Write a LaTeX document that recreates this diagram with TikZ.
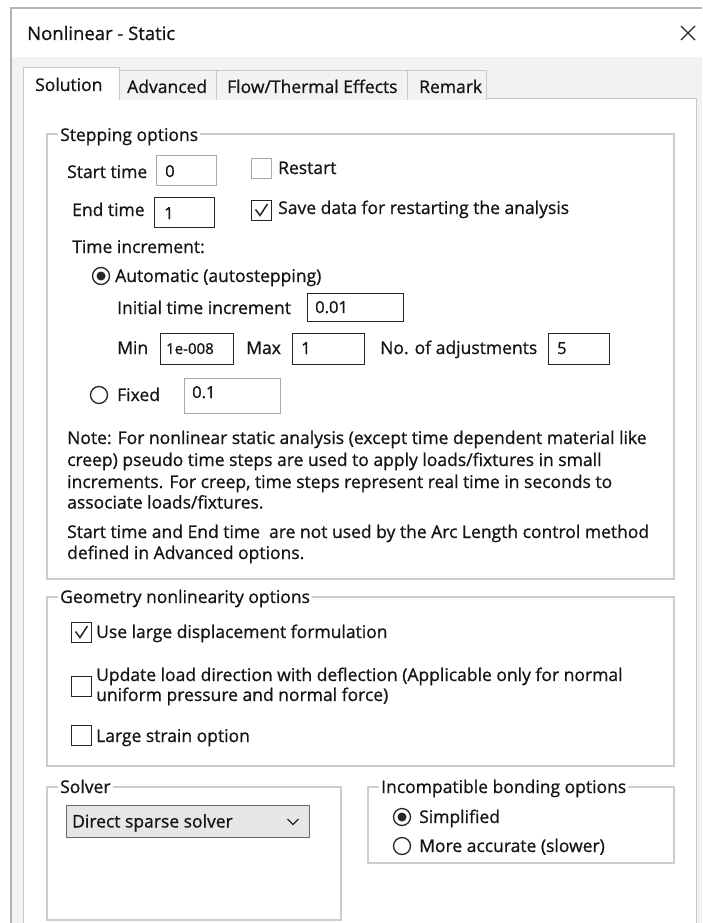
\documentclass[tikz,border=0pt]{standalone}
\usepackage{fontspec}
\setmainfont{Open Sans}[FakeBold=0.8]
\definecolor{frame}{HTML}{B4B4B4}
\definecolor{dlgbg}{HTML}{F2F2F2}
\definecolor{grpc}{HTML}{CDCDCD}
\definecolor{dark}{HTML}{262626}
\definecolor{greyb}{HTML}{A8A8A8}
\definecolor{txt}{HTML}{141414}
\definecolor{combo}{HTML}{E6E6E6}
\definecolor{tabc}{HTML}{C8C8C8}
\tikzset{
  lbl/.style={anchor=base west, inner sep=0pt, text=txt},
  grp/.style={draw=grpc, line width=1.2pt},
  grplbl/.style={anchor=base west, fill=white, inner xsep=2pt, inner ysep=2pt, text=txt},
  tbox/.style={draw=dark, line width=1.4pt, anchor=north west, inner sep=0pt},
  tboxg/.style={draw=greyb, line width=1.1pt, anchor=north west, inner sep=0pt},
  chkbox/.style={draw=dark, line width=1.3pt, anchor=north west, minimum size=20pt, inner sep=0pt},
  chkboxg/.style={draw=greyb, line width=1.1pt, anchor=north west, minimum size=20pt, inner sep=0pt},
  radio/.style={circle, draw=dark, line width=1.3pt, minimum size=17pt, inner sep=0pt},
  radiodot/.style={circle, fill=dark, minimum size=9pt, inner sep=0pt},
  tabn/.style={draw=tabc, fill=dlgbg, line width=1pt},
  tick/.style={draw=dark, line width=1.5pt, line join=miter},
  val/.style={lbl, font=\fontsize{16.5}{19}\selectfont},
}
\begin{document}
\begin{tikzpicture}[x=1pt,y=-1pt, font=\fontsize{17.5}{21}\selectfont]
\useasboundingbox (0,0) rectangle (702,923);
\fill[white] (0,0) rectangle (702,923);
% window
\fill[dlgbg] (11,57) rectangle (702,923);
\draw[frame, line width=1.2pt] (11,923) -- (11,8) -- (702,8);
\node[lbl, font=\fontsize{18.5}{21}\selectfont] (title) at (27,40) {Nonlinear - Static};
\draw[dark, line width=1.3pt] (681,26) -- (695,40) (681,40) -- (695,26);
% panel
\draw[tabc, fill=white, line width=1pt] (23,930) -- (23,99) -- (696,99) -- (696,930);
% tabs
\draw[tabn] (119,100) -- (119,71) -- (216,71) -- (216,100);
\draw[tabn] (216,100) -- (216,71) -- (407,71) -- (407,100);
\draw[tabn] (407,100) -- (407,71) -- (486,71) -- (486,100);
\fill[white] (23.5,68) rectangle (118.5,100.5);
\draw[tabc, line width=1pt] (23,100) -- (23,68) -- (119,68) -- (119,100);
\node[lbl] (tab1) at (35,91) {Solution};
\node[lbl] (tab2) at (127,93) {Advanced};
\node[lbl] (tab3) at (227,93) {Flow/Thermal Effects};
\node[lbl] (tab4) at (419,93) {Remark};
% stepping options
\draw[grp] (47,134) rectangle (674,579);
\node[grplbl] (gstep) at (58,141) {Stepping options};
\node[lbl] (starttime) at (67,178) {Start time};
\node[tboxg, minimum width=60pt, minimum height=30pt] (startbox) at (156,155) {};
\node[val] (startval) at (165,177) {0};
\node[chkboxg] (restartchk) at (251,158) {};
\node[lbl] (restart) at (278,174) {Restart};
\node[lbl] (endtime) at (72,216) {End time};
\node[tbox, minimum width=60pt, minimum height=30pt] (endbox) at (154,197) {};
\node[val] (endval) at (164,219) {1};
\node[chkbox] (savechk) at (251,200) {};
\draw[tick] (255.5,209.5) -- (260,215.5) -- (267.5,204);
\node[lbl] (save) at (278,214) {Save data for restarting the analysis};
\node[lbl] (timeinc) at (72,253) {Time increment:};
\node[radio] (autorad) at (101,276) {};
\node[radiodot] (autodot) at (101,276) {};
\node[lbl] (auto) at (115,282) {Automatic (autostepping)};
\node[lbl] (initinc) at (117,314) {Initial time increment};
\node[tbox, minimum width=96pt, minimum height=28pt] (initbox) at (307,293) {};
\node[val] (initval) at (315,313) {0.01};
\node[lbl] (min) at (117,354) {Min};
\node[tbox, minimum width=73pt, minimum height=31pt] (minbox) at (160,333) {};
\node[val, font=\fontsize{15}{18}\selectfont] (minval) at (166,354) {1e-008};
\node[lbl] (max) at (246,354) {Max};
\node[tbox, minimum width=72pt, minimum height=31pt] (maxbox) at (292,333) {};
\node[val] (maxval) at (301,354) {1};
\node[lbl] (nadj) at (380,354) {No. of adjustments};
\node[tbox, minimum width=61pt, minimum height=31pt] (adjbox) at (548,333) {};
\node[val] (adjval) at (557,354) {5};
\node[radio] (fixrad) at (99,395) {};
\node[lbl] (fixed) at (117,401) {Fixed};
\node[tboxg, minimum width=96pt, minimum height=35pt] (fixbox) at (184,378) {};
\node[val] (fixval) at (192,398) {0.1};
\node[lbl] (note1) at (67,444) {Note: For nonlinear static analysis (except time dependent material like};
\node[lbl] (note2) at (67,466) {creep) pseudo time steps are used to apply loads/fixtures in small};
\node[lbl] (note3) at (67,488) {increments. For creep, time steps represent real time in seconds to};
\node[lbl] (note4) at (67,508.5) {associate loads/fixtures.};
\node[lbl] (note5) at (67,538) {Start time and End time\ \ are not used by the Arc Length control method};
\node[lbl] (note6) at (67,559) {defined in Advanced options.};
% geometry
\draw[grp] (47,597) rectangle (674,766);
\node[grplbl] (ggeo) at (58,603) {Geometry nonlinearity options};
\node[chkbox] (largechk) at (71,622) {};
\draw[tick] (75.5,631.5) -- (80,637.5) -- (87.5,626);
\node[lbl] (large) at (96,638) {Use large displacement formulation};
\node[chkbox] (updchk) at (71,676) {};
\node[lbl] (upd1) at (96,681) {Update load direction with deflection (Applicable only for normal};
\node[lbl] (upd2) at (96,701) {uniform pressure and normal force)};
\node[chkbox] (strainchk) at (71,725) {};
\node[lbl] (strain) at (96,742) {Large strain option};
% solver
\draw[grp] (47,787) rectangle (341,920);
\node[grplbl] (gsolver) at (58,793) {Solver};
\node[draw=dark!70, fill=combo, line width=1.3pt, anchor=north west, minimum width=243pt, minimum height=32pt, inner sep=0pt] (combo) at (66,805) {};
\node[lbl] (solver) at (72,827.5) {Direct sparse solver};
\draw[dark, line width=1.2pt] (287.5,819) -- (293,824.5) -- (298.5,819);
% incompatible
\draw[grp] (368,787) rectangle (674,863);
\node[grplbl] (ginc) at (379,793) {Incompatible bonding options};
\node[radio] (simprad) at (402,817) {};
\node[radiodot] (simpdot) at (402,817) {};
\node[lbl] (simp) at (419,823) {Simplified};
\node[radio] (accrad) at (402,846) {};
\node[lbl] (acc) at (419,852) {More accurate (slower)};
\end{tikzpicture}
\end{document}
